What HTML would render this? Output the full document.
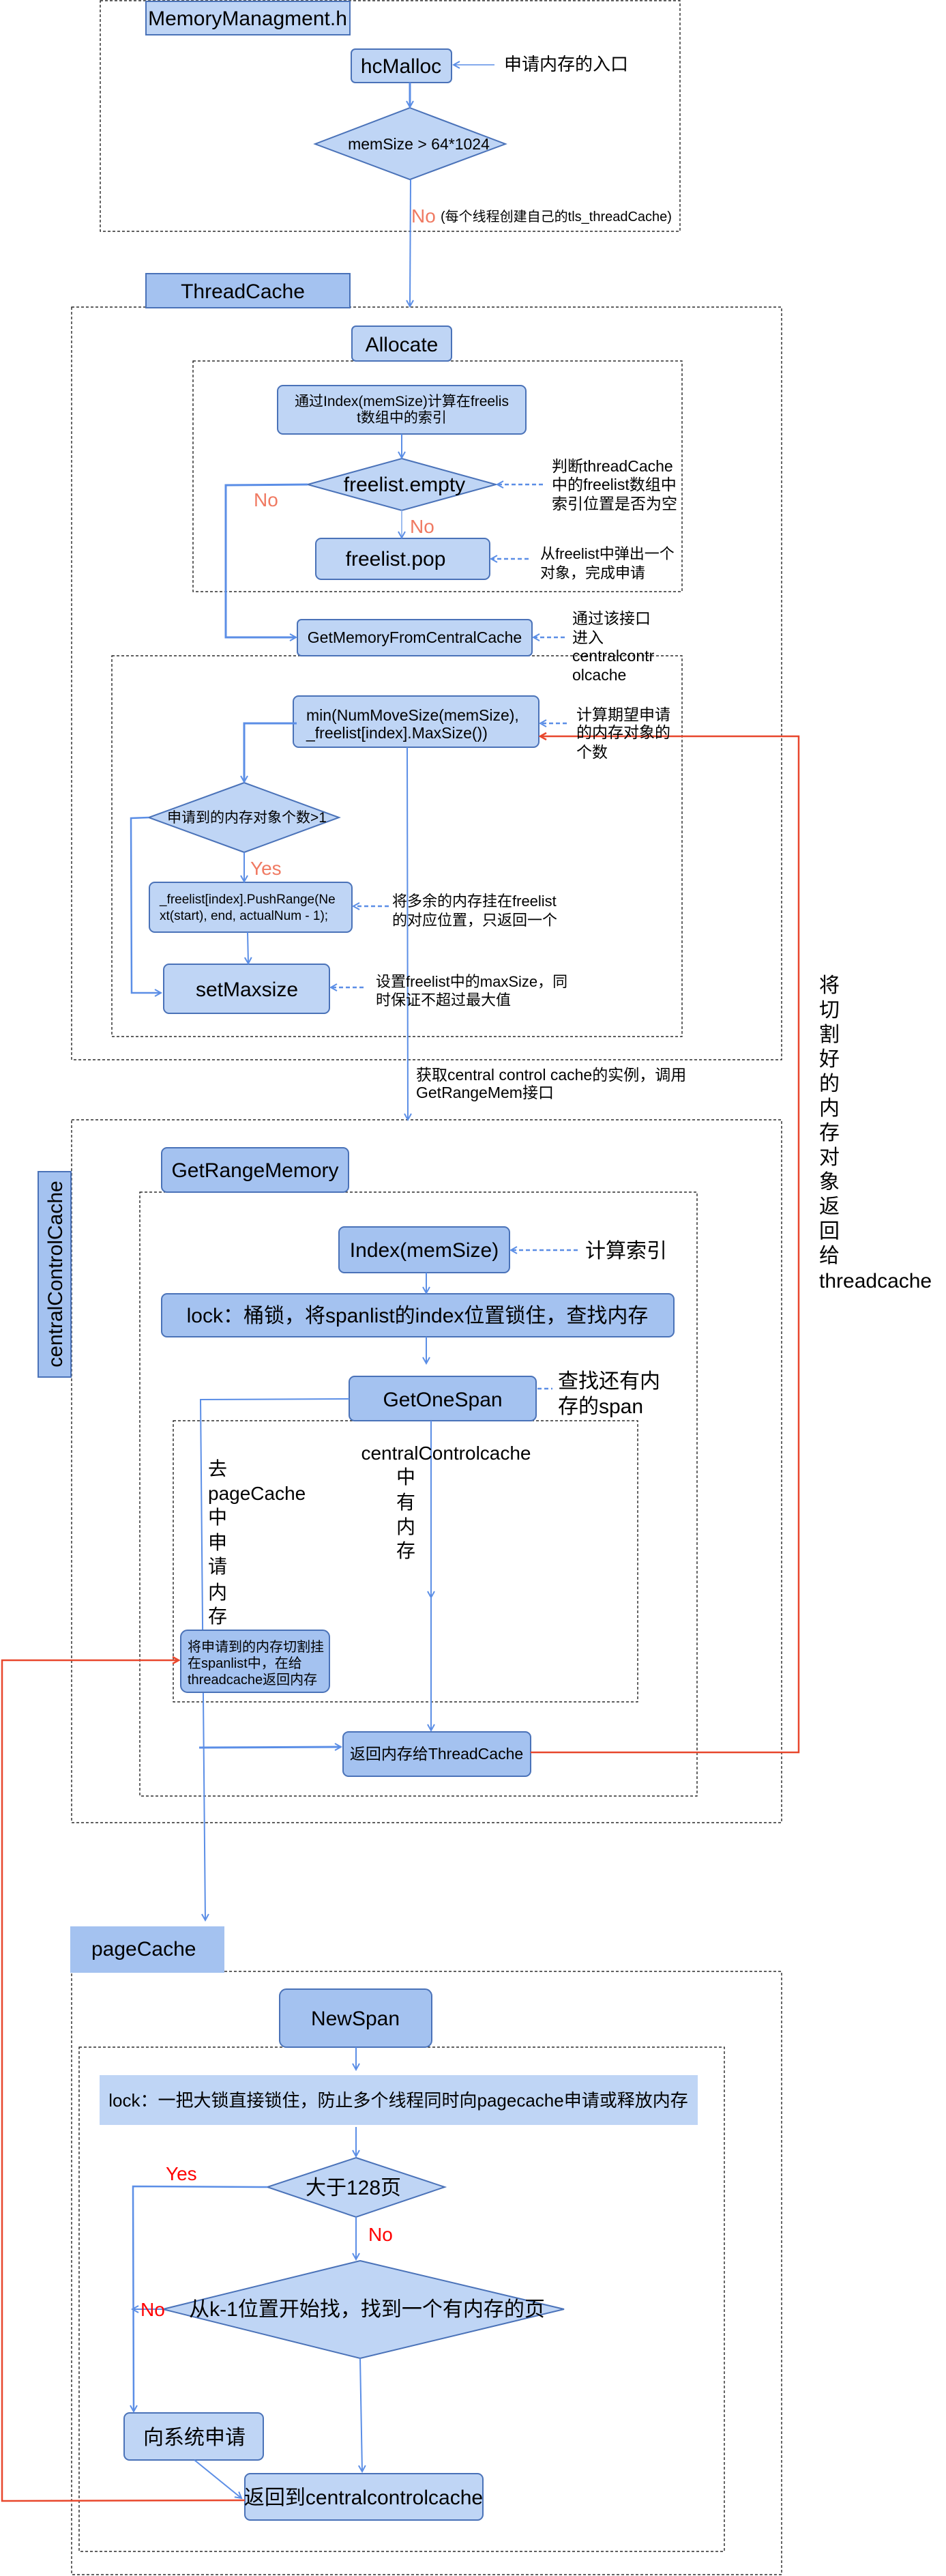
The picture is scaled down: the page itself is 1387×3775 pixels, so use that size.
<!DOCTYPE html>
<html><head><meta charset="utf-8"><style>
html,body{margin:0;padding:0;background:#fff;}
svg{display:block;}
text{font-family:"Liberation Sans","Noto Sans CJK SC",sans-serif;}
.k{fill:#000;}
</style></head><body>
<svg width="1387" height="3775" viewBox="0 0 1387 3775" xmlns="http://www.w3.org/2000/svg">
<defs>
<marker id="a" markerWidth="12" markerHeight="12" refX="10" refY="6" orient="auto" markerUnits="userSpaceOnUse"><path d="M1,1 L10,6 L1,11" fill="none" stroke="#5b8ee6" stroke-width="2"/></marker>
<marker id="r" markerWidth="12" markerHeight="12" refX="10" refY="6" orient="auto" markerUnits="userSpaceOnUse"><path d="M1,1 L10,6 L1,11" fill="none" stroke="#e8472c" stroke-width="2.5"/></marker>
</defs>
<g fill="none" stroke="#000" stroke-width="1.2" stroke-dasharray="4 3">
<rect x="147" y="1" width="850" height="338"/>
<rect x="105" y="450" width="1041" height="1103"/>
<rect x="283" y="529" width="717" height="338"/>
<rect x="164" y="961" width="836" height="558"/>
<rect x="105" y="1641" width="1041" height="1030"/>
<rect x="205" y="1747" width="817" height="885"/>
<rect x="254" y="2082" width="681" height="412"/>
<rect x="105" y="2889" width="1041" height="884"/>
<rect x="116" y="3000" width="946" height="739"/>
</g>
<g stroke="#4a72b8" stroke-width="2">
<rect x="214" y="2" width="299" height="49" fill="#bfd5f5"/>
<rect x="515" y="72" width="147" height="49" rx="6" fill="#bfd5f5"/>
<polygon points="601,158 741,211 601,263 462,211" fill="#bfd5f5"/>
<rect x="214" y="401" width="299" height="50" fill="#a4c2f0"/>
<rect x="516" y="478" width="146" height="51" rx="6" fill="#bfd5f5"/>
<rect x="407" y="565" width="364" height="71" rx="8" fill="#bfd5f5"/>
<polygon points="589,672 727,710 589,748 451,710" fill="#bfd5f5"/>
<rect x="463" y="789" width="255" height="60" rx="8" fill="#bfd5f5"/>
<rect x="436" y="908" width="344" height="53" rx="6" fill="#bfd5f5"/>
<rect x="430" y="1020" width="360" height="75" rx="8" fill="#bfd5f5"/>
<polygon points="358,1147 497,1198 358,1249 218,1198" fill="#bfd5f5"/>
<rect x="219" y="1293" width="297" height="73" rx="8" fill="#bfd5f5"/>
<rect x="240" y="1413" width="243" height="72" rx="8" fill="#bfd5f5"/>
<rect x="56" y="1717" width="48" height="301" fill="#a4c2f0"/>
<rect x="237" y="1682" width="274" height="65" rx="8" fill="#a4c2f0"/>
<rect x="497" y="1798" width="250" height="67" rx="8" fill="#a4c2f0"/>
<rect x="237" y="1896" width="751" height="63" rx="8" fill="#a4c2f0"/>
<rect x="512" y="2017" width="274" height="65" rx="8" fill="#a4c2f0"/>
<rect x="410" y="2915" width="223" height="85" rx="10" fill="#a4c2f0"/>
<polygon points="522,3162 652,3205 522,3249 392,3205" fill="#bfd5f5"/>
<polygon points="528,3313 827,3384 528,3456 239,3384" fill="#bfd5f5"/>
<rect x="182" y="3536" width="204" height="69" rx="8" fill="#bfd5f5"/>
<rect x="359" y="3625" width="349" height="68" rx="8" fill="#bfd5f5"/>
</g>
<rect x="103" y="2823" width="226" height="68" fill="#a4c2f0"/>
<rect x="146" y="3041" width="877" height="73" fill="#bfd5f5"/>
<g fill="none" stroke="#5b8ee6" stroke-width="2">
<line x1="725" y1="95" x2="665" y2="95" marker-end="url(#a)" stroke-width="1.5"/>
<line x1="601" y1="121" x2="601" y2="157" marker-end="url(#a)" stroke-width="3"/>
<line x1="602" y1="263" x2="601" y2="449" marker-end="url(#a)"/>
<line x1="589" y1="636" x2="589" y2="671" marker-end="url(#a)"/>
<polyline points="451,710 331,711 331,934 434,934" marker-end="url(#a)" stroke-width="3"/>
<line x1="589" y1="748" x2="589" y2="788" marker-end="url(#a)" stroke="#9dbcf0"/>
<polyline points="435,1060 358,1060 358,1146" marker-end="url(#a)" stroke-width="3"/>
<polyline points="218,1198 192,1199 193,1455 236,1455" marker-end="url(#a)" stroke-width="2.5"/>
<line x1="358" y1="1249" x2="358" y2="1292" marker-end="url(#a)"/>
<line x1="363" y1="1366" x2="364" y2="1412" marker-end="url(#a)"/>
<line x1="597" y1="1095" x2="598" y2="1641" marker-end="url(#a)"/>
<line x1="625" y1="1865" x2="625" y2="1895" marker-end="url(#a)"/>
<line x1="625" y1="1959" x2="625" y2="1998" marker-end="url(#a)"/>
<polyline points="512,2050 294,2051 301,2814" marker-end="url(#a)"/>
<line x1="632" y1="2082" x2="632" y2="2341" marker-end="url(#a)"/>
<line x1="632" y1="2341" x2="632" y2="2536" marker-end="url(#a)"/>
<line x1="292" y1="2561" x2="500" y2="2560" marker-end="url(#a)" stroke-width="3"/>
<line x1="522" y1="3000" x2="522" y2="3033" marker-end="url(#a)"/>
<line x1="522" y1="3117" x2="522" y2="3160" marker-end="url(#a)"/>
<polyline points="392,3205 195,3204 196,3534" marker-end="url(#a)" stroke-width="2.5"/>
<line x1="522" y1="3249" x2="522" y2="3311" marker-end="url(#a)"/>
<line x1="239" y1="3384" x2="194" y2="3384" marker-end="url(#a)"/>
<line x1="528" y1="3456" x2="531" y2="3622" marker-end="url(#a)"/>
<line x1="285" y1="3605" x2="354" y2="3661" marker-end="url(#a)"/>
</g>
<rect x="265" y="2389" width="218" height="91" rx="10" fill="#a4c2f0" stroke="#4a72b8" stroke-width="2"/>
<rect x="503" y="2538" width="275" height="65" rx="8" fill="#a4c2f0" stroke="#4a72b8" stroke-width="2"/>
<g fill="none" stroke="#5b8ee6" stroke-width="2.5" stroke-dasharray="6 4">
<line x1="796" y1="710" x2="729" y2="710" marker-end="url(#a)"/>
<line x1="775" y1="819" x2="720" y2="819" marker-end="url(#a)"/>
<line x1="828" y1="934" x2="782" y2="934" marker-end="url(#a)"/>
<line x1="831" y1="1060" x2="792" y2="1060" marker-end="url(#a)"/>
<line x1="570" y1="1328" x2="518" y2="1328" marker-end="url(#a)"/>
<line x1="533" y1="1447" x2="485" y2="1447" marker-end="url(#a)"/>
<line x1="847" y1="1832" x2="749" y2="1832" marker-end="url(#a)"/>
<line x1="788" y1="2035" x2="810" y2="2035"/>
</g>
<g fill="none" stroke="#e8472c" stroke-width="2.5">
<polyline points="778,2568 1171,2568 1171,1079 792,1079" marker-end="url(#r)"/>
<polyline points="359,3664 3,3665 3,2433 262,2433" marker-end="url(#r)"/>
</g>
<g class="k" font-size="30" text-anchor="middle">
<text x="363" y="37">MemoryManagment.h</text>
<text x="588" y="107">hcMalloc</text>
<text x="356" y="437">ThreadCache</text>
<text x="589" y="515">Allocate</text>
<text x="593" y="720">freelist.empty</text>
<text x="580" y="829">freelist.pop</text>
<text x="362" y="1460">setMaxsize</text>
<text x="374" y="1725">GetRangeMemory</text>
<text x="622" y="1842">Index(memSize)</text>
<text x="612" y="1938">lock：桶锁，将spanlist的index位置锁住，查找内存</text>
<text x="649" y="2061">GetOneSpan</text>
<text x="521" y="2968">NewSpan</text>
<text x="518" y="3216">大于128页</text>
<text x="538" y="3394">从k-1位置开始找，找到一个有内存的页</text>
<text x="285" y="3582">向系统申请</text>
<text x="533" y="3670">返回到centralcontrolcache</text>
</g>
<g class="k">
<text x="614" y="219" font-size="23" text-anchor="middle">memSize &gt; 64*1024</text>
<text x="589" y="595" font-size="21" text-anchor="middle">通过Index(memSize)计算在freelis</text>
<text x="589" y="619" font-size="21" text-anchor="middle">t数组中的索引</text>
<text x="608" y="942" font-size="23" text-anchor="middle">GetMemoryFromCentralCache</text>
<text x="449" y="1056" font-size="23">min(NumMoveSize(memSize),</text>
<text x="449" y="1082" font-size="23">_freelist[index].MaxSize())</text>
<text x="362" y="1205" font-size="21" text-anchor="middle">申请到的内存对象个数&gt;1</text>
<text x="234" y="1324" font-size="19">_freelist[index].PushRange(Ne</text>
<text x="234" y="1348" font-size="19">xt(start), end, actualNum - 1);</text>
<text x="640" y="2578" font-size="23" text-anchor="middle">返回内存给ThreadCache</text>
<text x="275" y="2420" font-size="20">将申请到的内存切割挂</text>
<text x="275" y="2444" font-size="20">在spanlist中，在给</text>
<text x="275" y="2468" font-size="20">threadcache返回内存</text>
<text x="134" y="2866" font-size="30">pageCache</text>
<text x="584" y="3087" font-size="26" text-anchor="middle">lock：一把大锁直接锁住，防止多个线程同时向pagecache申请或释放内存</text>
<text transform="translate(91,1867) rotate(-90)" font-size="30" text-anchor="middle">centralControlCache</text>
</g>
<g font-size="28">
<text x="603" y="326" style="fill:#f07a62">No</text>
<text x="372" y="742" style="fill:#f07a62">No</text>
<text x="601" y="781" style="fill:#f07a62">No</text>
<text x="367" y="1282" style="fill:#f07a62">Yes</text>
<text x="243" y="3195" style="fill:#ff0000">Yes</text>
<text x="540" y="3284" style="fill:#ff0000">No</text>
<text x="206" y="3394" style="fill:#ff0000">No</text>
</g>
<g class="k">
<text x="739" y="103" font-size="26">申请内存的入口</text>
<text x="646" y="324" font-size="20">(每个线程创建自己的tls_threadCache)</text>
</g>
<g class="k" font-size="23">
<text x="809" y="691">判断threadCache</text>
<text x="809" y="718">中的freelist数组中</text>
<text x="809" y="746">索引位置是否为空</text>
<text x="839" y="914">通过该接口</text>
<text x="839" y="942">进入</text>
<text x="839" y="969">centralcontr</text>
<text x="839" y="997">olcache</text>
<text x="845" y="1055">计算期望申请</text>
<text x="845" y="1081">的内存对象的</text>
<text x="845" y="1110">个数</text>
<text x="610" y="1583">获取central control cache的实例，调用</text>
<text x="610" y="1609">GetRangeMem接口</text>
</g>
<g class="k" font-size="22">
<text x="792" y="819">从freelist中弹出一个</text>
<text x="792" y="847">对象，完成申请</text>
<text x="575" y="1328">将多余的内存挂在freelist</text>
<text x="575" y="1356">的对应位置，只返回一个</text>
<text x="551" y="1446">设置freelist中的maxSize，同</text>
<text x="551" y="1473">时保证不超过最大值</text>
</g>
<g class="k" font-size="30">
<text x="858" y="1843">计算索引</text>
<text x="818" y="2034">查找还有内</text>
<text x="818" y="2071">存的span</text>
</g>
<g class="k" font-size="28">
<text x="305" y="2162">去</text>
<text x="305" y="2198">pageCache</text>
<text x="305" y="2233">中</text>
<text x="305" y="2270">申</text>
<text x="305" y="2305">请</text>
<text x="305" y="2343">内</text>
<text x="305" y="2378">存</text>
<text x="654" y="2139" text-anchor="middle">centralControlcache</text>
<text x="595" y="2174" text-anchor="middle">中</text>
<text x="595" y="2211" text-anchor="middle">有</text>
<text x="595" y="2247" text-anchor="middle">内</text>
<text x="595" y="2282" text-anchor="middle">存</text>
</g>
<g class="k" font-size="30">
<text x="1201" y="1454">将</text>
<text x="1201" y="1490">切</text>
<text x="1201" y="1526">割</text>
<text x="1201" y="1562">好</text>
<text x="1201" y="1598">的</text>
<text x="1201" y="1634">内</text>
<text x="1201" y="1670">存</text>
<text x="1201" y="1706">对</text>
<text x="1201" y="1742">象</text>
<text x="1201" y="1778">返</text>
<text x="1201" y="1814">回</text>
<text x="1201" y="1850">给</text>
<text x="1201" y="1887">threadcache</text>
</g>
</svg>
</body></html>
